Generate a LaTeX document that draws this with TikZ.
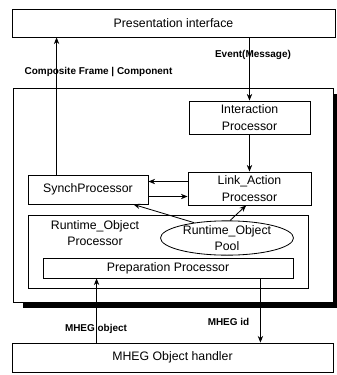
\documentclass[tikz,border=0pt]{standalone}
\usepackage{fontspec}
\setmainfont{Liberation Sans}
\usepackage{tikz}
\usetikzlibrary{shapes, arrows.meta, positioning, shadows, calc}
\tikzstyle{block} = [rectangle, draw=black, line width=0.7pt, fill=white, inner sep=0pt, text centered, align=center, font=\fontsize{10.5}{15}\selectfont]
\tikzstyle{pool} = [ellipse, draw=black, line width=0.7pt, fill=white, inner sep=0pt, text centered, align=center, font=\fontsize{10.5}{13}\selectfont]
\tikzstyle{tag} = [inner sep=0pt, font=\bfseries\fontsize{8.5}{10}\selectfont]
\tikzstyle{flow} = [line width=0.7pt, -{Stealth[length=2mm, width=1.6mm]}]

\begin{document}
\begin{tikzpicture}[node distance=2cm]
\useasboundingbox (-5.205,0.69) rectangle (4.905,-10.56);
\node (pres) [block, minimum width=9.69cm, minimum height=0.84cm] {Presentation interface};
\node (frame) [block, minimum width=9.6cm, minimum height=6.42cm, below of=pres, xshift=-0.015cm, yshift=-3.16cm, drop shadow={shadow xshift=0.3cm, shadow yshift=-0.18cm, fill=black, opacity=1}] {};
\node (interaction) [block, minimum width=3.63cm, minimum height=0.99cm, below of=pres, xshift=2.28cm, yshift=-0.835cm] {Interaction\\Processor};
\node (linkact) [block, minimum width=3.69cm, minimum height=0.99cm, below of=interaction, yshift=-0.13cm] {Link\_Action\\Processor};
\node (synch) [block, minimum width=3.6cm, minimum height=0.87cm, left of=linkact, xshift=-2.845cm, yshift=-0.03cm] {SynchProcessor};
\node (rtproc) [block, minimum width=8.4cm, minimum height=2.19cm, below of=synch, xshift=2.4cm, yshift=0.14cm] {};
\node (rtlabel) [align=center, inner sep=0pt, font=\fontsize{10.5}{14}\selectfont, below of=synch, xshift=0.21cm, yshift=0.695cm] {Runtime\_Object\\Processor};
\node (objpool) [pool, minimum width=3.99cm, minimum height=1.02cm, below of=linkact, xshift=-0.675cm, yshift=0.515cm] {Runtime\_Object\\Pool};
\node (prep) [block, minimum width=7.5cm, minimum height=0.6cm, below of=rtproc, yshift=1.505cm] {Preparation Processor};
\node (handler) [block, minimum width=9.63cm, minimum height=0.87cm, below of=prep, xshift=0.135cm, yshift=-0.685cm] {MHEG Object handler};
\node (composite) [tag, below of=pres, xshift=-2.25cm, yshift=0.53cm] {Composite Frame | Component};
\node (event) [tag, below of=pres, xshift=2.385cm, yshift=1.04cm] {Event(Message)};
\node (mhegobj) [tag, above of=handler, xshift=-2.295cm, yshift=-1.145cm] {MHEG object};
\node (mhegid) [tag, above of=handler, xshift=1.68cm, yshift=-0.935cm] {MHEG id};
\draw[flow] ([xshift=0.87cm]synch.north west) -- ([xshift=0.87cm]synch.north west |- pres.south);
\draw[flow] (pres.south -| interaction.north) -- (interaction.north);
\draw[flow] (interaction.south) -- (linkact.north);
\draw[flow] ([yshift=0.21cm]linkact.west) -- ([yshift=0.21cm]linkact.west -| synch.east);
\draw[flow] ([yshift=-0.21cm]synch.east) -- ([yshift=-0.21cm]synch.east -| linkact.west);
\draw[flow] (objpool.155) -- ([xshift=-0.45cm]synch.south east);
\draw[flow] (objpool.80) -- ([xshift=-0.1cm]linkact.south);
\draw[flow] ([xshift=1.62cm]prep.south west |- handler.north) -- ([xshift=1.62cm]prep.south west);
\draw[flow] ([xshift=-0.99cm]prep.south east) -- ([xshift=-0.99cm]prep.south east |- handler.north);
\end{tikzpicture}
\end{document}
